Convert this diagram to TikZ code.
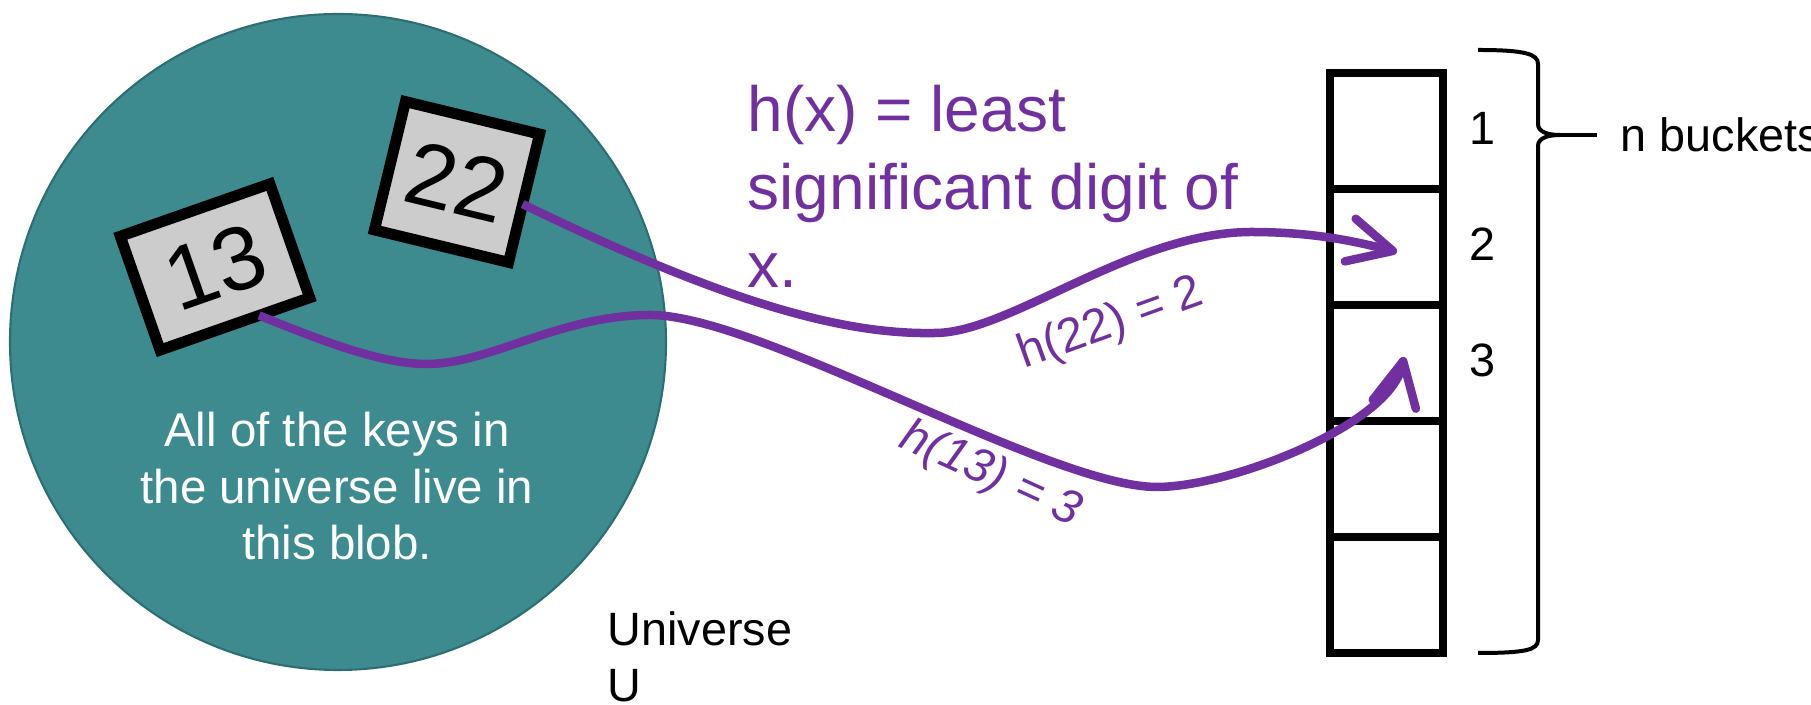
\documentclass[tikz,border=0pt]{standalone}
\usepackage{fontspec}
\setmainfont{Liberation Sans}
\usetikzlibrary{arrows.meta,positioning}

\definecolor{blobteal}{RGB}{62,139,143}
\definecolor{blobedge}{RGB}{45,110,114}
\definecolor{hashpurple}{RGB}{112,48,160}
\definecolor{boxgray}{RGB}{204,204,204}

\tikzset{
  keybox/.style={draw=black, line width=1.1mm, fill=boxgray, inner sep=0pt, outer sep=0pt,
    font=\fontsize{25.6}{30}\selectfont},
  bucket/.style={draw=black, line width=0.75mm, minimum width=11.3mm, minimum height=11.6mm,
    inner sep=0pt, outer sep=0pt},
  hasharrow/.style={draw=hashpurple, line width=0.85mm,
    -{Straight Barb[length=4.4mm,width=4.4mm,round]}},
  hashlabel/.style={text=hashpurple, font=\fontsize{13.6}{16}\selectfont, inner sep=0pt},
  plain/.style={font=\fontsize{13.3}{16}\selectfont, inner sep=0pt},
  braceline/.style={draw=black, line width=0.4mm}
}

\begin{document}
\begin{tikzpicture}[x=0.1mm, y=-0.1mm, node distance=11.6mm]
\useasboundingbox (0,0) rectangle (1811,705);

% the universe
\node (blob) [circle, fill=blobteal, draw=blobedge, line width=0.6pt, minimum size=65.6mm, inner sep=0pt] at (338,342) {};
\node (blobtext) [anchor=north, align=center, text=white, inner sep=0pt,
  font=\fontsize{13.5}{16.2}\selectfont] at (337,411) {All of the keys in\\the universe live in\\this blob.};
\node (univ) [plain, anchor=north west, align=left] at (607,611) {Universe\\U};

% keys
\node (k13) [keybox, rotate=19.3, minimum width=15.85mm, minimum height=12.06mm] at (215,267) {13};
\node (k22) [keybox, rotate=-13.6, minimum width=13.8mm, minimum height=13.2mm] at (457,182) {22};

% hash function
\node (hx) [anchor=north west, align=left, text=hashpurple, inner sep=0pt,
  font=\fontsize{18.2}{22.2}\selectfont] at (747,84) {h(x) = least\\significant digit of\\x.};

% buckets
\node (b1) [bucket] at (1386.5,131) {};
\node (b2) [bucket, below of=b1] {};
\node (b3) [bucket, below of=b2] {};
\node (b4) [bucket, below of=b3] {};
\node (b5) [bucket, below of=b4] {};

\node (n1) [plain] at (1482,128) {1};
\node (n2) [plain] at (1482,244) {2};
\node (n3) [plain] at (1482,360) {3};

% brace
\coordinate (bracetip) at (1560,135);
\draw[braceline] (1478,50) .. controls (1525,50) and (1538,54) .. (1538,64) -- (1538,124)
  .. controls (1538,132) and (1548,135) .. (bracetip)
  .. controls (1548,135) and (1538,138) .. (1538,146) -- (1538,640)
  .. controls (1538,650) and (1525,653) .. (1478,653);
\node (nb) [plain, anchor=west, inner xsep=2.3mm] at (1597,135) {n buckets};
\draw[braceline] (bracetip) -- (nb.west);

% hashing
\draw[hasharrow] (k22.-5) .. controls (720,300) and (840,335) .. (935,333)
  .. controls (1010,333) and (1130,233) .. (1250,232)
  .. controls (1310,232) and (1350,240) .. ([xshift=1.05mm,yshift=-0.5mm]b2.center);
\draw[hasharrow] (k13.-67) .. controls (320,340) and (380,364) .. (427,364)
  .. controls (490,364) and (560,315) .. (650,315)
  .. controls (760,315) and (1050,487) .. (1157,487)
  .. controls (1230,487) and (1390,425) .. ([xshift=1.75mm,yshift=0.6mm]b3.center);

\node (h22) [hashlabel, anchor=base west, rotate=19.8] at (1024,369) {h(22) = 2};
\node (h13) [hashlabel, anchor=base west, rotate=-24.5, font=\fontsize{13.6}{16}\selectfont\itshape] at (897,446) {h(13) = 3};

\end{tikzpicture}
\end{document}
